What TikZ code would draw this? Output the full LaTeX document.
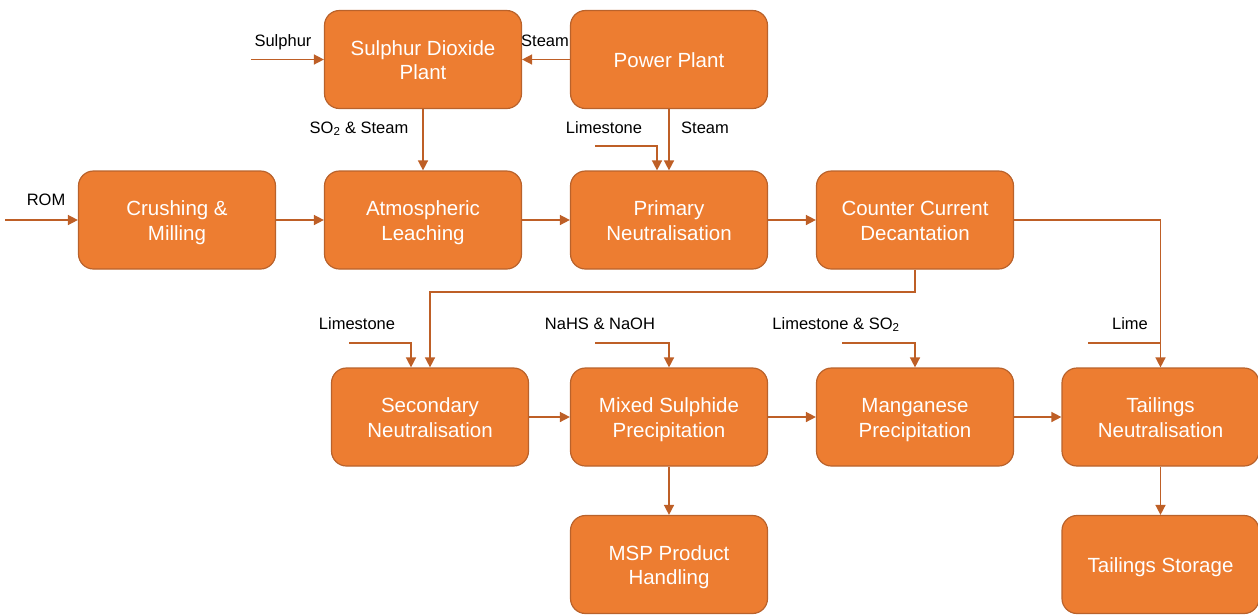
\documentclass[tikz,border=0pt]{standalone}
\usepackage{fontspec}
\setmainfont{Liberation Sans}
\usetikzlibrary{arrows.meta}
\definecolor{boxfill}{HTML}{ED7D31}
\definecolor{boxline}{HTML}{B9622B}
\definecolor{arrline}{HTML}{BE5F26}
\newcommand{\boxtxt}[1]{\begin{tabular}{@{}c@{}}\rule{0pt}{23pt}#1\rule[-7.5pt]{0pt}{0pt}\end{tabular}}
\tikzset{
  proc/.style={draw=boxline, line width=1.2pt, fill=boxfill, rounded corners=15pt,
    minimum width=197pt, minimum height=98pt, text=white,
    font=\fontsize{20.5}{24.5}\selectfont, inner sep=0pt},
  arr/.style={draw=arrline, line width=1.5pt, -{Triangle[length=10pt,width=10pt]}},
  ln/.style={draw=arrline, line width=1.5pt},
  lbl/.style={font=\fontsize{16.5}{20}\selectfont, text=black, inner sep=0pt, anchor=base}
}
\begin{document}
\begin{tikzpicture}[x=1pt,y=-1pt]
\useasboundingbox (0,0) rectangle (1258,614);
% nodes
\node[proc] (so2) at (423,59.5) {\boxtxt{Sulphur Dioxide\\Plant}};
\node[proc] (power) at (669,59.5) {\boxtxt{Power Plant}};
\node[proc] (crush) at (177,220) {\boxtxt{Crushing \&\\Milling}};
\node[proc] (atm) at (423,220) {\boxtxt{Atmospheric\\Leaching}};
\node[proc] (prim) at (669,220) {\boxtxt{Primary\\Neutralisation}};
\node[proc] (ccd) at (915,220) {\boxtxt{Counter Current\\Decantation}};
\node[proc] (sec) at (430,417) {\boxtxt{Secondary\\Neutralisation}};
\node[proc] (msp) at (669,417) {\boxtxt{Mixed Sulphide\\Precipitation}};
\node[proc] (mn) at (915,417) {\boxtxt{Manganese\\Precipitation}};
\node[proc] (tail) at (1160.5,417) {\boxtxt{Tailings\\Neutralisation}};
\node[proc] (msph) at (669,564.5) {\boxtxt{MSP Product\\Handling}};
\node[proc] (store) at (1160.5,564.5) {\boxtxt{Tailings Storage}};
% labels
\node[lbl] (lsul) at (283,46) {Sulphur};
\node[lbl] (lst1) at (545,46) {Steam};
\node[lbl] (lso2) at (359,133) {SO\textsubscript{2} \& Steam};
\node[lbl] (lst2) at (705,133) {Steam};
\node[lbl] (llim1) at (604,133) {Limestone};
\node[lbl] (lrom) at (46,205) {ROM};
\node[lbl] (llim2) at (357,329) {Limestone};
\node[lbl] (lnahs) at (600,329) {NaHS \& NaOH};
\node[lbl] (llim3) at (836,329) {Limestone \& SO\textsubscript{2}};
\node[lbl] (llime) at (1130,329) {Lime};
% free ends
\coordinate (sulin) at (251,59.5);
\coordinate (romin) at (5,220);
\coordinate (limin1) at (595,146);
\coordinate (limin2) at (349,343);
\coordinate (nahsin) at (595,343);
\coordinate (limin3) at (842,343);
\coordinate (limein) at (1088,343);
\coordinate (turn) at (915,292);
% connectors
\draw[arr] (sulin) -- (so2.west);
\draw[arr] (power.west) -- (so2.east);
\draw[arr] (so2.south) -- (atm.north);
\draw[arr] (power.south) -- (prim.north);
\draw[arr] (limin1) -| ([xshift=-12pt]prim.north);
\draw[arr] (romin) -- (crush.west);
\draw[arr] (crush.east) -- (atm.west);
\draw[arr] (atm.east) -- (prim.west);
\draw[arr] (prim.east) -- (ccd.west);
\draw[arr] (ccd.east) -| (tail.north);
\draw[arr] (ccd.south) -- (turn) -| (sec.north);
\draw[arr] (limin2) -| ([xshift=-19pt]sec.north);
\draw[arr] (nahsin) -| (msp.north);
\draw[arr] (limin3) -| (mn.north);
\draw[ln] (limein) -- (limein -| tail.north);
\draw[arr] (sec.east) -- (msp.west);
\draw[arr] (msp.east) -- (mn.west);
\draw[arr] (mn.east) -- (tail.west);
\draw[arr] (msp.south) -- (msph.north);
\draw[arr] (tail.south) -- (store.north);
\end{tikzpicture}
\end{document}
